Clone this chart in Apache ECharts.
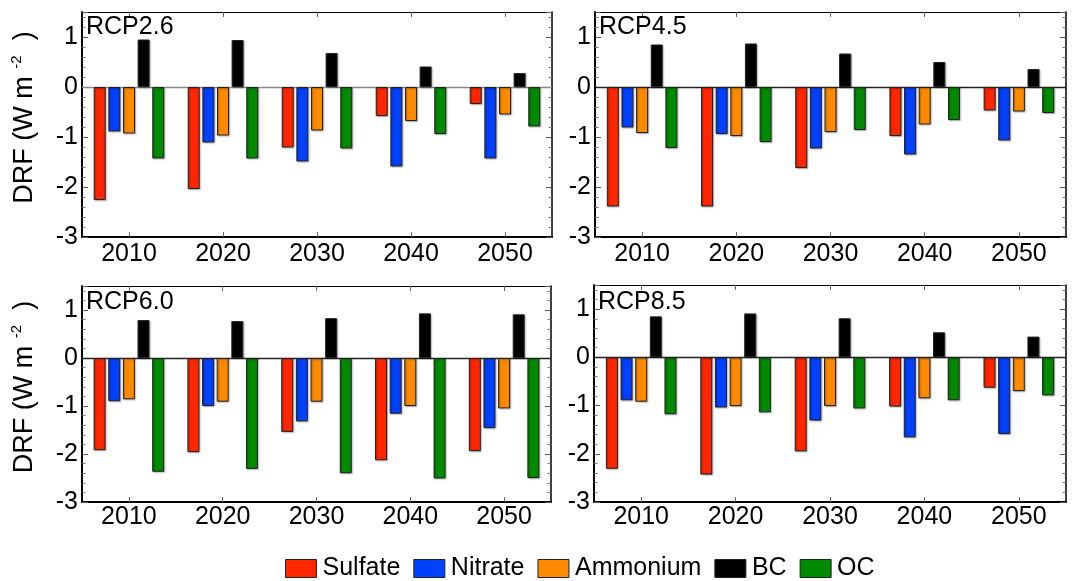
<!DOCTYPE html>
<html>
<head>
<meta charset="utf-8">
<script src="https://cdn.jsdelivr.net/npm/echarts@6/dist/echarts.min.js"></script>
<style>
html,body{margin:0;padding:0;background:#fff;}
#chart{width:1076px;height:581px;}
</style>
</head>
<body>
<div id="chart"></div>
<script>
// ---- data ----
const categories = ['2010', '2020', '2030', '2040', '2050'];
const panelNames = ['RCP2.6', 'RCP4.5', 'RCP6.0', 'RCP8.5'];
const species = ['Sulfate', 'Nitrate', 'Ammonium', 'BC', 'OC'];
const yTickValues = [-3, -2, -1, 0, 1];

const sulfate26 = [-2.26, -2.04, -1.21, -0.58, -0.34];
const nitrate26 = [-0.89, -1.11, -1.49, -1.59, -1.43];
const ammonium26 = [-0.93, -0.97, -0.87, -0.68, -0.55];
const bc26 = [0.95, 0.94, 0.68, 0.41, 0.28];
const oc26 = [-1.43, -1.43, -1.23, -0.94, -0.79];

const sulfate45 = [-2.39, -2.39, -1.62, -0.98, -0.47];
const nitrate45 = [-0.81, -0.94, -1.23, -1.35, -1.07];
const ammonium45 = [-0.92, -0.98, -0.90, -0.75, -0.49];
const bc45 = [0.85, 0.87, 0.67, 0.50, 0.36];
const oc45 = [-1.22, -1.10, -0.86, -0.66, -0.52];

const sulfate60 = [-1.92, -1.96, -1.54, -2.13, -1.94];
const nitrate60 = [-0.90, -1.00, -1.32, -1.16, -1.46];
const ammonium60 = [-0.86, -0.91, -0.91, -1.00, -1.05];
const bc60 = [0.79, 0.77, 0.83, 0.93, 0.91];
const oc60 = [-2.37, -2.31, -2.40, -2.51, -2.50];

const sulfate85 = [-2.31, -2.43, -1.95, -1.02, -0.63];
const nitrate85 = [-0.89, -1.04, -1.31, -1.66, -1.59];
const ammonium85 = [-0.92, -1.01, -1.01, -0.85, -0.70];
const bc85 = [0.85, 0.91, 0.81, 0.52, 0.43];
const oc85 = [-1.18, -1.14, -1.06, -0.89, -0.79];

const panelData = [
  [sulfate26, nitrate26, ammonium26, bc26, oc26],
  [sulfate45, nitrate45, ammonium45, bc45, oc45],
  [sulfate60, nitrate60, ammonium60, bc60, oc60],
  [sulfate85, nitrate85, ammonium85, bc85, oc85]
];

// ---- style / layout ----
const colors = ['#ff2600', '#0040ff', '#ff8a00', '#000000', '#008a00'];
const FONT = "'Liberation Sans', Arial, sans-serif";
const grids = [
  {left: 82, top: 12, width: 470, height: 225},
  {left: 595, top: 12, width: 471, height: 225},
  {left: 82, top: 286, width: 469, height: 216},
  {left: 594, top: 285, width: 472, height: 217}
];
const xLabelMargins = [5, 5, 3, 3];
const zeroLineColors = ['#888888', '#222222', '#222222', '#222222'];
const titlePos = [
  {left: 86, top: 15}, {left: 599, top: 15},
  {left: 86, top: 290}, {left: 598, top: 290}
];

const xAxes = [], yAxes = [], series = [], titles = [];
grids.forEach((g, p) => {
  const xb = {
    type: 'category', gridIndex: p, data: categories, position: 'bottom',
    boundaryGap: true,
    axisLine: {show: true, onZero: false, lineStyle: {color: '#000', width: 2}},
    axisTick: {show: true, inside: true, alignWithLabel: true, length: 5, lineStyle: {color: '#666'}},
    axisLabel: {fontSize: 25, color: '#000', fontFamily: FONT, margin: xLabelMargins[p]},
    splitLine: {show: false}
  };
  const xt = {
    type: 'category', gridIndex: p, data: categories, position: 'top',
    boundaryGap: true,
    axisLine: {show: true, onZero: false, lineStyle: {color: '#000', width: 1}},
    axisTick: {show: true, inside: true, alignWithLabel: true, length: 5, lineStyle: {color: '#666'}},
    axisLabel: {show: false},
    splitLine: {show: false}
  };
  xAxes.push(xb, xt);
  const yl = {
    type: 'value', gridIndex: p, position: 'left',
    min: yTickValues[0], max: 1.5, interval: 1,
    axisLine: {show: true, onZero: false, lineStyle: {color: '#000', width: 2}},
    axisTick: {show: true, inside: true, length: 6, lineStyle: {color: '#555'}},
    minorTick: {show: true, splitNumber: 5, length: 3.5, lineStyle: {color: '#777'}},
    axisLabel: {fontSize: 25, color: '#000', fontFamily: FONT, margin: 4, showMaxLabel: false,
      formatter: v => (yTickValues.indexOf(v) >= 0 ? String(v) : '')},
    splitLine: {show: false}
  };
  if (p % 2 === 0) {
    yl.name = 'DRF (W m {sup|-2}  )';
    yl.nameLocation = 'middle';
    yl.nameGap = 41;
    yl.nameTextStyle = {
      fontSize: 27, color: '#000', fontFamily: FONT, lineHeight: 32, padding: [0, 0, 0, 14],
      rich: {sup: {fontSize: 15, color: '#000', fontFamily: FONT, verticalAlign: 'top', lineHeight: 32, padding: [0, 0, 12, 0]}}
    };
  }
  const yr = {
    type: 'value', gridIndex: p, position: 'right',
    min: yTickValues[0], max: 1.5, interval: 1,
    axisLine: {show: true, onZero: false, lineStyle: {color: '#000', width: 1.5}},
    axisTick: {show: true, inside: true, length: 6, lineStyle: {color: '#555'}},
    minorTick: {show: true, splitNumber: 5, length: 3.5, lineStyle: {color: '#777'}},
    axisLabel: {show: false},
    splitLine: {show: false}
  };
  yAxes.push(yl, yr);

  titles.push({
    text: panelNames[p], left: titlePos[p].left, top: titlePos[p].top, padding: 0,
    textStyle: {fontSize: 25, fontWeight: 'normal', color: '#000', fontFamily: FONT}
  });

  species.forEach((s, k) => {
    const ser = {
      name: s, type: 'bar', xAxisIndex: 2 * p, yAxisIndex: 2 * p,
      data: panelData[p][k], barWidth: 12, barGap: '22%',
      itemStyle: {color: colors[k], borderColor: '#222', borderWidth: 1,
        shadowColor: 'rgba(0,0,0,0.35)', shadowBlur: 1.5, shadowOffsetX: 1, shadowOffsetY: 1},
      emphasis: {disabled: true}
    };
    if (k === 0) {
      ser.markLine = {
        silent: true, symbol: 'none', label: {show: false}, z: 1,
        lineStyle: {color: zeroLineColors[p], width: 1.3, type: 'solid'},
        data: [{yAxis: 0}]
      };
    }
    series.push(ser);
  });
});

const chart = echarts.init(document.getElementById('chart'), null, {renderer: 'canvas'});
chart.setOption({
  animation: false,
  backgroundColor: '#fff',
  textStyle: {fontFamily: FONT},
  title: titles,
  grid: grids,
  xAxis: xAxes,
  yAxis: yAxes,
  legend: {
    data: species, left: 285, top: 556, orient: 'horizontal', padding: 0,
    itemWidth: 31, itemHeight: 18, itemGap: 13, icon: 'rect',
    itemStyle: {borderColor: '#222', borderWidth: 1, shadowBlur: 0, shadowOffsetX: 0, shadowOffsetY: 0},
    textStyle: {fontSize: 25, color: '#000', fontFamily: FONT, padding: [0, 0, 0, 1]},
    selectedMode: false
  },
  series: series
});
</script>
</body>
</html>
